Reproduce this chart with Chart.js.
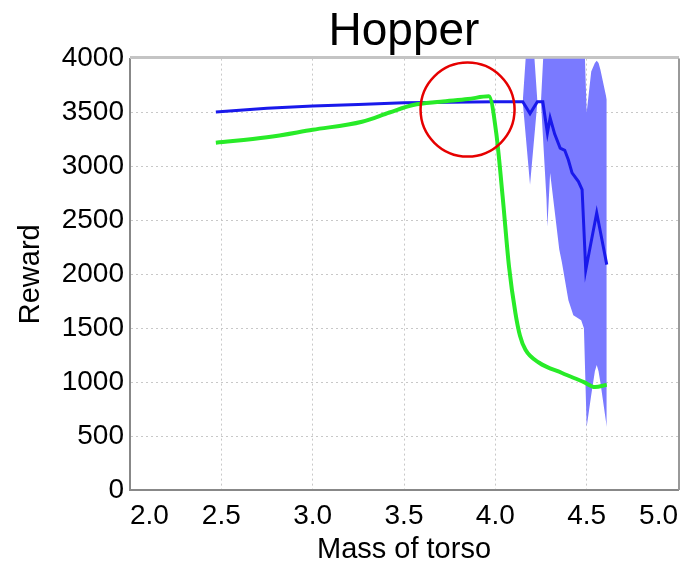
<!DOCTYPE html>
<html lang="en">
<head>
<meta charset="UTF-8">
<script src="https://cdn.jsdelivr.net/npm/chart.js"></script>
<title>Hopper</title>
<style>
  html, body { margin: 0; padding: 0; background: #fff; }
  #wrap { width: 687px; height: 571px; }
</style>
</head>
<body>
<div id="wrap"><canvas id="grafico" width="687" height="571"></canvas></div>

<script>
// tick labels
const xTicks = [2.0, 2.5, 3.0, 3.5, 4.0, 4.5, 5.0];
const yTicks = [0, 500, 1000, 1500, 2000, 2500, 3000, 3500, 4000];

// blue series (mean)
const blueX = [2.47, 2.75, 3.0, 3.25, 3.5, 3.75, 4.0, 4.15, 4.19, 4.23, 4.26, 4.285, 4.30, 4.325, 4.355, 4.38, 4.40, 4.42, 4.455, 4.475, 4.495, 4.555, 4.61];
const blueY = [3505, 3540, 3560, 3575, 3590, 3595, 3600, 3600, 3490, 3600, 3600, 3310, 3450, 3300, 3170, 3150, 3060, 2940, 2860, 2785, 2040, 2570, 2090];

// blue shaded band (upper / lower)
const bandX     = [4.15, 4.19, 4.23, 4.25, 4.28, 4.285, 4.30, 4.35, 4.364, 4.40, 4.427, 4.47, 4.485, 4.50, 4.525, 4.545, 4.555, 4.565, 4.575, 4.61];
const bandUpper = [3600, 4600, 3610, 3610, 4600, 4700, 4800, 4900, 4900, 4900, 4800, 4600, 4300, 3500, 3880, 3960, 3980, 3960, 3900, 3620];
const bandLower = [3600, 2830, 3590, 3590, 2700, 2440, 2940, 2230, 2115, 1760, 1620, 1575, 1500, 585, 880, 1100, 1160, 1100, 1000, 585];

// green series
const greenX = [2.47, 2.75, 3.0, 3.27, 3.42, 3.55, 3.7, 3.85, 3.965, 4.005, 4.04, 4.075, 4.11, 4.135, 4.165, 4.24, 4.365, 4.485, 4.545, 4.61];
const greenY = [3220, 3270, 3340, 3415, 3500, 3570, 3600, 3625, 3650, 3310, 2720, 2070, 1640, 1430, 1300, 1180, 1085, 1000, 955, 975];

// red circle mark (data coords)
const circulo = { x: 3.848, y: 3527, raio: 47 };

function pontos(xs, ys) {
  return xs.map((x, i) => ({ x: x, y: ys[i] }));
}

const fonte = 'Liberation Sans, Arial, sans-serif';

// frame round the plot + red circle
const extras = {
  id: 'extras',
  beforeDatasetsDraw(chart) {
    const a = chart.chartArea, ctx = chart.ctx;
    ctx.save();
    ctx.strokeStyle = '#c4c4c4';
    ctx.lineWidth = 3;
    ctx.beginPath();
    ctx.moveTo(a.left, a.top - 1);
    ctx.lineTo(a.right + 1, a.top - 1);
    ctx.stroke();
    ctx.strokeStyle = '#999';
    ctx.lineWidth = 2;
    ctx.beginPath();
    ctx.moveTo(a.right + 1, a.top);
    ctx.lineTo(a.right + 1, a.bottom);
    ctx.stroke();
    ctx.restore();
  },
  afterDatasetsDraw(chart) {
    const ctx = chart.ctx;
    const cx = chart.scales.x.getPixelForValue(circulo.x);
    const cy = chart.scales.y.getPixelForValue(circulo.y);
    ctx.save();
    ctx.strokeStyle = 'rgb(230,0,0)';
    ctx.lineWidth = 2.5;
    ctx.beginPath();
    ctx.arc(cx, cy, circulo.raio, 0, Math.PI * 2);
    ctx.stroke();
    ctx.restore();
  }
};

const config = {
  type: 'line',
  data: {
    datasets: [
      {
        label: 'upper',
        data: pontos(bandX, bandUpper),
        borderWidth: 0,
        pointRadius: 0,
        fill: false,
        order: 3
      },
      {
        label: 'lower',
        data: pontos(bandX, bandLower),
        borderWidth: 0,
        pointRadius: 0,
        backgroundColor: 'rgb(122,122,255)',
        fill: '-1',
        order: 2
      },
      {
        label: 'blue',
        data: pontos(blueX, blueY),
        borderColor: 'rgb(25,25,235)',
        borderWidth: 3,
        pointRadius: 0,
        fill: false,
        order: 1
      },
      {
        label: 'green',
        data: pontos(greenX, greenY),
        borderColor: 'rgb(40,235,40)',
        borderWidth: 4,
        pointRadius: 0,
        cubicInterpolationMode: 'monotone',
        fill: false,
        order: 0
      }
    ]
  },
  options: {
    responsive: false,
    animation: false,
    layout: { padding: { left: 0, right: 4, top: 0, bottom: 0 } },
    elements: { line: { tension: 0 } },
    plugins: {
      legend: { display: false },
      tooltip: { enabled: false },
      title: {
        display: true,
        text: 'Hopper',
        fullSize: false,
        color: '#000',
        font: { family: fonte, size: 46, weight: 'normal', lineHeight: 1.1 },
        padding: { top: 7, bottom: 1 }
      }
    },
    scales: {
      x: {
        type: 'linear',
        min: 2,
        max: 5,
        afterBuildTicks: s => { s.ticks = xTicks.map(v => ({ value: v })); },
        afterFit: s => { s.height = 81; },
        ticks: {
          align: 'inner',
          color: '#000',
          padding: 9,
          font: { family: fonte, size: 28 },
          callback: v => Number(v).toFixed(1)
        },
        grid: { color: '#c8c8c8', lineWidth: 1, drawTicks: false },
        border: { display: true, color: '#888', width: 2, dash: [2, 3] },
        title: {
          display: true,
          text: 'Mass of torso',
          color: '#000',
          font: { family: fonte, size: 29 },
          padding: { top: 0, bottom: 4 }
        }
      },
      y: {
        min: 0,
        max: 4000,
        afterBuildTicks: s => { s.ticks = yTicks.map(v => ({ value: v })); },
        afterFit: s => { s.width = 130; },
        ticks: {
          align: 'inner',
          color: '#000',
          padding: 6,
          font: { family: fonte, size: 28 },
          callback: v => String(v)
        },
        grid: { color: '#c8c8c8', lineWidth: 1, drawTicks: false },
        border: { display: true, color: '#888', width: 2, dash: [2, 3] },
        title: {
          display: true,
          text: 'Reward',
          color: '#000',
          font: { family: fonte, size: 29 },
          padding: { top: 14, bottom: 0 }
        }
      }
    }
  },
  plugins: [extras]
};

const grafico = new Chart(document.getElementById('grafico'), config);
</script>
</body>
</html>
